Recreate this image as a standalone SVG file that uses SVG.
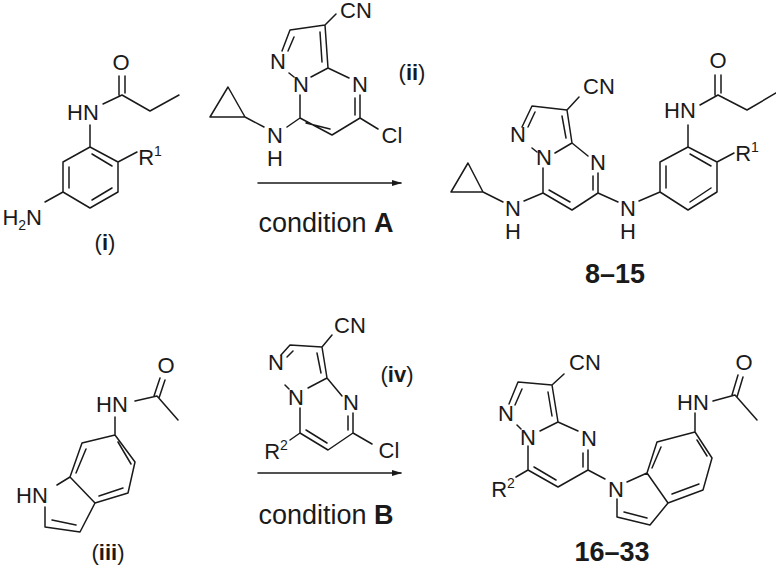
<svg xmlns="http://www.w3.org/2000/svg" width="776" height="568" viewBox="0 0 776 568">
<defs>
<style>
.b{stroke:#1a1a1a;stroke-width:1.5;fill:none;stroke-linecap:round;stroke-linejoin:round}
text{font-family:"Liberation Sans",Arial,sans-serif;fill:#1a1a1a}
.a{font-size:22px;text-anchor:middle}
.l{font-size:27px;text-anchor:middle}
.bd{font-weight:bold}
</style>
<marker id="ah" markerWidth="10" markerHeight="8" refX="9" refY="4" orient="auto" markerUnits="userSpaceOnUse"><path d="M0,1 L10,4 L0,7 Z" fill="#1a1a1a"/></marker>
</defs>
<rect width="776" height="568" fill="#fff"/>

<g id="cmp-i">
<path class="b" d="M119,76V95 M125,76V93 M103,104L122,95L150,111L179,95 M90,125V147 M90,147L118,162L118,192L90,208L63,192L63,162Z M69,167V188 M92,154L112,166 M112,188L92,200 M118,162L137,152 M63,192L45,202"/>
<text class="a" x="121" y="70">O</text>
<text class="a" x="83" y="120">HN</text>
<text class="a" x="150" y="165">R<tspan font-size="14" dy="-9">1</tspan></text>
<text x="42" y="225" font-size="22" text-anchor="end">H<tspan font-size="14" dy="5">2</tspan><tspan dy="-5">N</tspan></text>
<text class="a" x="105" y="250">(<tspan class="bd">i</tspan>)</text>
</g>

<g id="cmp-ii">
<path class="b" d="M210,117L245,117L228,87Z M245,117L264,127 M287,127L300,118 M300,118V95 M300,118L332,135L360,118 M306,123L330,129 M360,118V95 M355,115V98 M349,78L328,68L311,77 M294,77L289,73 M282,51L290,30L325,25L328,68 M288,51L294,37 M320,32L322,62 M325,25L336,14 M360,118L378,129"/>
<text class="a" x="275" y="143">N</text>
<text class="a" x="275" y="166">H</text>
<text class="a" x="301" y="92">N</text>
<text class="a" x="360" y="92">N</text>
<text class="a" x="278" y="69">N</text>
<text class="a" x="356" y="18">CN</text>
<text class="a" x="392" y="143">Cl</text>
<text class="a" x="412" y="80">(<tspan class="bd">ii</tspan>)</text>
</g>

<g id="cmp-8-15">
<path class="b" d="M451,192L483,192L468,163Z M483,192L503,202 M524,201L543,193 M543,193V168 M543,193L572,210L598,193 M549,190L570,202 M598,193V173 M593,190V176 M588,156L572,143L555,153 M537,152L532,148 M522,127L532,106L567,110L572,143 M528,127L535,112 M562,116L566,138 M567,110L579,97 M598,193L618,202 M639,201L660,192 M660,192L660,162L688,147L717,162L717,192L688,210Z M666,188V166 M690,154L711,166 M711,188L690,202 M688,147V125 M700,105L718,95L747,110L776,93 M715,95V75 M721,93V75 M717,162L734,153"/>
<text class="a" x="513" y="216">N</text>
<text class="a" x="513" y="239">H</text>
<text class="a" x="544" y="165">N</text>
<text class="a" x="598" y="170">N</text>
<text class="a" x="518" y="142">N</text>
<text class="a" x="599" y="94">CN</text>
<text class="a" x="628" y="216">N</text>
<text class="a" x="628" y="239">H</text>
<text class="a" x="680" y="118">HN</text>
<text class="a" x="718" y="68">O</text>
<text class="a" x="747" y="161">R<tspan font-size="14" dy="-9">1</tspan></text>
<text class="l bd" x="615" y="283">8–15</text>
</g>

<g id="cmp-iii">
<path class="b" d="M115,435L135,462L128,493L95,503L70,477L82,443Z M76,473L86,449 M118,442L131,464 M123,488L99,496 M115,435V417 M135,401L157,396L178,420 M154,396L160,378 M159,398L165,380 M70,477L57,485 M45,507V527L80,532L95,503 M52,520L76,525"/>
<text class="a" x="112" y="412">HN</text>
<text class="a" x="166" y="373">O</text>
<text class="a" x="32" y="503">HN</text>
<text class="a" x="108" y="560">(<tspan class="bd">iii</tspan>)</text>
</g>

<g id="cmp-iv">
<path class="b" d="M300,433V408 M300,433L328,450L353,433 M306,430L327,443 M353,433V413 M348,430V416 M342,396L327,378L308,388 M289,389L285,385 M281,355L290,345L322,347L327,378 M287,357L293,351 M317,353L321,373 M322,347L332,335 M353,433L372,444 M300,433L290,440"/>
<text class="a" x="296" y="405">N</text>
<text class="a" x="351" y="410">N</text>
<text class="a" x="276" y="370">N</text>
<text class="a" x="350" y="333">CN</text>
<text class="a" x="389" y="458">Cl</text>
<text class="a" x="276" y="459">R<tspan font-size="14" dy="-9">2</tspan></text>
<text class="a" x="397" y="382">(<tspan class="bd">iv</tspan>)</text>
</g>

<g id="cmp-16-33">
<path class="b" d="M528,470V446 M528,470L558,487L588,470 M534,467L556,480 M588,470V450 M583,467V453 M578,431L558,422L540,431 M521,429L517,425 M509,404L518,382L552,385L558,422 M515,405L522,389 M548,392L552,416 M552,385L564,374 M588,470L605,479 M627,482L647,473 M647,473L657,442L695,432L712,458L703,490L668,503Z M652,468L661,447 M697,440L707,456 M699,484L672,494 M617,499V517L650,525L668,503 M624,512L647,518 M695,432V413 M713,401L735,395L757,420 M732,395L738,375 M737,397L743,377 M528,470L516,477"/>
<text class="a" x="528" y="445">N</text>
<text class="a" x="589" y="446">N</text>
<text class="a" x="506" y="421">N</text>
<text class="a" x="585" y="370">CN</text>
<text class="a" x="503" y="497">R<tspan font-size="14" dy="-9">2</tspan></text>
<text class="a" x="616" y="497">N</text>
<text class="a" x="693" y="410">HN</text>
<text class="a" x="744" y="370">O</text>
<text class="l bd" x="612" y="561">16–33</text>
</g>

<g id="connectors">
<line class="b" x1="258" y1="183" x2="401" y2="183" marker-end="url(#ah)"/>
<line class="b" x1="258" y1="473" x2="401" y2="473" marker-end="url(#ah)"/>
</g>
<text class="l" x="326" y="232">condition <tspan class="bd">A</tspan></text>
<text class="l" x="326" y="524">condition <tspan class="bd">B</tspan></text>
</svg>
